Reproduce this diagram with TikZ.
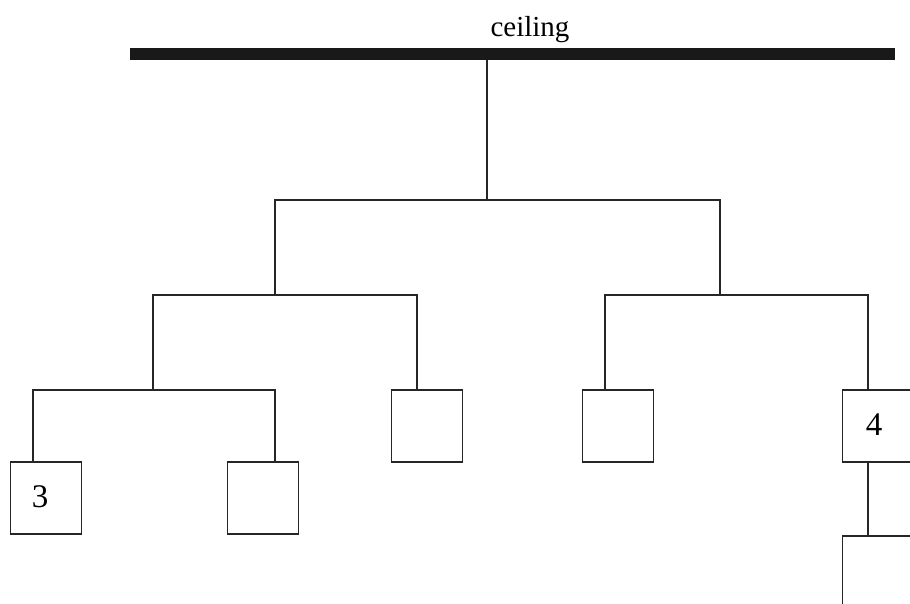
\documentclass[tikz,border=0pt]{standalone}
\usepackage{fontspec}
\setmainfont{Liberation Serif}
\begin{document}
\begin{tikzpicture}[x=1pt,y=-1pt,
  wire/.style={draw=black!85,line width=1.2pt},
  cell/.style={draw=black!85,line width=1.2pt,minimum width=71pt,minimum height=72pt,inner sep=0pt,fill=white},
  num/.style={font=\fontsize{33}{33}\selectfont}]
\clip (0,0) rectangle (910,604);
\fill[white] (0,0) rectangle (910,604);
% ceiling
\node[font=\fontsize{29}{29}\selectfont] (lbl) at (530,30) {ceiling};
\fill[black!90] (130,48) rectangle (895,60);
\coordinate (top) at (487,60);
% boxes
\node[cell] (b1) at (46,498) {};
\node[num] at (40,497) {3};
\node[cell] (b2) at (263,498) {};
\node[cell] (b3) at (427,426) {};
\node[cell] (b4) at (618,426) {};
\node[cell] (b5) at (878,426) {};
\node[num] at (874,425) {4};
\node[cell] (b6) at (878,572) {};
% junctions
\coordinate (j0) at (487,200);
\coordinate (jl) at (275,295);
\coordinate (jr) at (720,295);
\coordinate (jll) at (153,390);
% connectors
\draw[wire] (top) -- (j0);
\draw[wire] (jl) |- (j0) -| (jr);
\draw[wire] (jll) |- (jl) -| (b3.north -| 417,0);
\draw[wire] (b1.north -| 33,0) |- (jll) -| (b2.north -| 275,0);
\draw[wire] (b4.north -| 605,0) |- (jr) -| (b5.north -| 868,0);
\draw[wire] (b5.south -| 868,0) -- (b6.north -| 868,0);
\end{tikzpicture}
\end{document}
